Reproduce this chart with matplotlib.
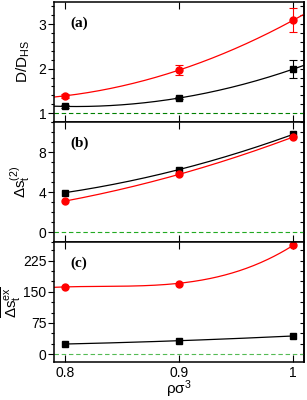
import numpy as np
import matplotlib
matplotlib.use("Agg")
import matplotlib.pyplot as plt
from matplotlib.ticker import MultipleLocator

plt.rcParams['font.family'] = ['Liberation Sans', 'DejaVu Sans']
plt.rcParams['mathtext.fontset'] = 'custom'
plt.rcParams['mathtext.rm'] = 'Liberation Sans'
plt.rcParams['mathtext.it'] = 'Liberation Sans'
plt.rcParams['mathtext.bf'] = 'Liberation Sans:bold'

# ---- data ----
rho = [0.8, 0.9, 1.0]

a_black = [1.15, 1.34, 1.99]
a_black_err = [0.03, 0.03, 0.20]
a_red = [1.39, 1.97, 3.09]
a_red_err = [0.05, 0.12, 0.27]

b_black = [3.94, 6.25, 9.77]
b_red = [3.10, 5.77, 9.50]

c_black = [24.3, 32.3, 43.7]
c_red = [162.6, 170.0, 262.0]

# fitted red curve of panel (c)
c_red_fit_x = [0.79, 0.80, 0.85, 0.90, 0.95, 0.98, 1.00]
c_red_fit_y = [161.0, 161.6, 164.0, 170.0, 199.0, 231.0, 262.0]

xticks = [0.8, 0.9, 1.0]
xticklabels = ['0.8', '0.9', '1']

RED = '#ff0000'
BLK = '#000000'

fig = plt.figure(figsize=(3.07, 4.0), dpi=100)
gs = fig.add_gridspec(3, 1, left=0.176, right=0.99, top=0.995, bottom=0.095, hspace=0)
axes = [fig.add_subplot(gs[i]) for i in range(3)]
XL = (0.79, 1.0094)


def fitcurve(x, y, deg, x0, x1):
    p = np.polyfit(x, y, deg)
    xs = np.linspace(x0, x1, 200)
    return xs, np.polyval(p, xs)


def style(ax, major, minor, ylim):
    ax.set_xlim(*XL)
    ax.set_ylim(*ylim)
    ax.set_xticks(xticks)
    ax.yaxis.set_major_locator(MultipleLocator(major))
    ax.yaxis.set_minor_locator(MultipleLocator(minor))
    ax.tick_params(axis='x', which='both', direction='in', top=True, bottom=True, length=5, width=0.8)
    ax.tick_params(axis='y', which='major', direction='out', left=True, length=4, width=0.8, labelsize=10, pad=1.5)
    ax.tick_params(axis='y', which='minor', direction='out', left=True, length=2.5, width=0.8)
    for s in ax.spines.values():
        s.set_linewidth(1.1)
    ay = ax.secondary_yaxis('right')
    ay.yaxis.set_major_locator(MultipleLocator(minor))
    ay.tick_params(direction='in', length=3, width=0.8, labelright=False)
    ay.spines['right'].set_linewidth(1.1)


def panel_label(ax, s):
    ax.text(0.065, 0.825, s, transform=ax.transAxes, fontsize=11, fontweight='bold',
            ha='left', va='center', family=['Liberation Serif', 'DejaVu Serif'])


# ---- panel (a) ----
ax = axes[0]
ax.axhline(1.0, color='#008000', ls='--', lw=0.8, dashes=(4, 2.5))
xs, ys = fitcurve(rho, a_red, 2, XL[0], XL[1])
ax.plot(xs, ys, color=RED, lw=0.9)
xs, ys = fitcurve(rho, a_black, 2, XL[0], XL[1])
ax.plot(xs, ys, color=BLK, lw=0.9)
ax.errorbar(rho, a_red, yerr=a_red_err, fmt='o', color=RED, ms=5, capsize=3, elinewidth=0.8, capthick=0.8)
ax.errorbar(rho, a_black, yerr=a_black_err, fmt='s', color=BLK, ms=4.5, capsize=3, elinewidth=0.8, capthick=0.8)
style(ax, 1, 0.2, (0.8, 3.5))
ax.set_ylabel(r'D/D$_{\mathrm{HS}}$', fontsize=11)
ax.yaxis.set_label_coords(-0.088, 0.5)
panel_label(ax, '(a)')

# ---- panel (b) ----
ax = axes[1]
ax.axhline(0.0, color='#22aa22', ls='--', lw=0.8, dashes=(4, 2.5))
xs, ys = fitcurve(rho, b_black, 2, 0.8, 1.0)
ax.plot(xs, ys, color=BLK, lw=0.9)
xs, ys = fitcurve(rho, b_red, 2, 0.8, 1.0)
ax.plot(xs, ys, color=RED, lw=0.9)
ax.plot(rho, b_black, 's', color=BLK, ms=4.5)
ax.plot(rho, b_red, 'o', color=RED, ms=5)
style(ax, 4, 1, (-1.0, 11.0))
ax.set_ylabel(r'$\Delta$s$_{\mathrm{t}}^{(2)}$', fontsize=11)
ax.yaxis.set_label_coords(-0.088, 0.5)
panel_label(ax, '(b)')

# ---- panel (c) ----
ax = axes[2]
ax.axhline(0.0, color='#55bb55', ls='--', lw=0.8, dashes=(4, 2.5))
xs, ys = fitcurve(c_red_fit_x, c_red_fit_y, 3, XL[0], 1.0)
ax.plot(xs, ys, color=RED, lw=0.9)
xs, ys = fitcurve(rho, c_black, 2, 0.8, 1.0)
ax.plot(xs, ys, color=BLK, lw=0.9)
ax.plot(rho, c_red, 'o', color=RED, ms=5)
ax.plot(rho, c_black, 's', color=BLK, ms=4.5)
style(ax, 75, 25, (-19, 270))
ax.set_ylabel(r'$\overline{\Delta\mathrm{s}_{\mathrm{t}}^{\mathrm{ex}}}$', fontsize=11)
ax.yaxis.set_label_coords(-0.125, 0.5)
panel_label(ax, '(c)')
ax.set_xticklabels(xticklabels)
ax.tick_params(axis='x', labelsize=10, pad=3)
ax.set_xlabel(r'$\rho\sigma^{3}$', fontsize=11, labelpad=-1)

for ax in axes[:2]:
    ax.tick_params(axis='x', labelbottom=False)

fig.savefig('out.png', dpi=100)
